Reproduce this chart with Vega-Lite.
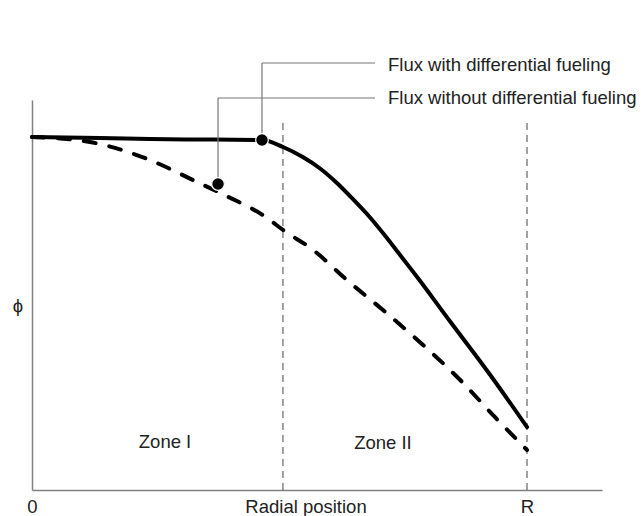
{
  "$schema": "https://vega.github.io/schema/vega-lite/v6.json",
  "width": 570,
  "height": 390,
  "autosize": "none",
  "padding": {"left": 32, "top": 100, "right": 39, "bottom": 26},
  "config": {
    "view": {"stroke": null},
    "font": "Liberation Sans",
    "axis": {"grid": false, "ticks": false, "domainColor": "#808080", "domainWidth": 1.5}
  },
  "datasets": {
    "curves": [
      {"series": "with", "x": 0.0, "y": 0.905},
      {"series": "with", "x": 0.137, "y": 0.9026},
      {"series": "with", "x": 0.238, "y": 0.9},
      {"series": "with", "x": 0.339, "y": 0.8987},
      {"series": "with", "x": 0.465, "y": 0.8974},
      {"series": "with", "x": 0.507, "y": 0.8795},
      {"series": "with", "x": 0.547, "y": 0.8538},
      {"series": "with", "x": 0.582, "y": 0.8244},
      {"series": "with", "x": 0.616, "y": 0.7872},
      {"series": "with", "x": 0.648, "y": 0.7462},
      {"series": "with", "x": 0.683, "y": 0.6987},
      {"series": "with", "x": 0.717, "y": 0.6462},
      {"series": "with", "x": 0.749, "y": 0.5936},
      {"series": "with", "x": 0.778, "y": 0.5462},
      {"series": "with", "x": 0.844, "y": 0.4333},
      {"series": "with", "x": 0.925, "y": 0.2962},
      {"series": "with", "x": 1.0, "y": 0.1615},
      {"series": "without", "x": 0.0, "y": 0.905},
      {"series": "without", "x": 0.0566, "y": 0.9013},
      {"series": "without", "x": 0.117, "y": 0.8923},
      {"series": "without", "x": 0.238, "y": 0.8462},
      {"series": "without", "x": 0.325, "y": 0.7949},
      {"series": "without", "x": 0.38, "y": 0.7615},
      {"series": "without", "x": 0.475, "y": 0.6974},
      {"series": "without", "x": 0.507, "y": 0.6667},
      {"series": "without", "x": 0.568, "y": 0.6154},
      {"series": "without", "x": 0.636, "y": 0.5385},
      {"series": "without", "x": 0.709, "y": 0.4615},
      {"series": "without", "x": 0.79, "y": 0.3718},
      {"series": "without", "x": 0.865, "y": 0.2821},
      {"series": "without", "x": 0.935, "y": 0.1872},
      {"series": "without", "x": 1.0, "y": 0.1026}
    ],
    "zones": [
      {"x": 0.507, "y": 0, "y2": 0.946},
      {"x": 1.0, "y": 0, "y2": 0.946}
    ],
    "leaders": [
      {"x": 0.3758, "x2": 0.3758, "y": 0.7846, "y2": 1.0051},
      {"x": 0.3758, "x2": 0.693, "y": 1.0051, "y2": 1.0051},
      {"x": 0.4646, "x2": 0.4646, "y": 0.8974, "y2": 1.0949},
      {"x": 0.4646, "x2": 0.693, "y": 1.0949, "y2": 1.0949}
    ],
    "dots": [
      {"x": 0.3758, "y": 0.7846},
      {"x": 0.4646, "y": 0.8974}
    ],
    "callouts": [
      {"x": 0.7192, "y": 1.0051, "text": "Flux without differential fueling"},
      {"x": 0.7192, "y": 1.0897, "text": "Flux with differential fueling"}
    ],
    "zonelabels": [
      {"x": 0.2687, "y": 0.123, "text": "Zone I"},
      {"x": 0.709, "y": 0.1205, "text": "Zone II"}
    ]
  },
  "layer": [
    {
      "data": {"name": "zones"},
      "mark": {"type": "rule", "color": "#444444", "strokeWidth": 1, "strokeDash": [7, 5]},
      "encoding": {
        "x": {
          "field": "x", "type": "quantitative",
          "scale": {"domain": [0, 1.1515], "nice": false, "zero": false},
          "axis": {
            "values": [0, 1],
            "labelExpr": "datum.value == 1 ? 'R' : '0'",
            "labelFlush": false,
            "labelFontSize": 18.5,
            "labelColor": "#222222",
            "labelBaseline": "alphabetic",
            "labelPadding": 22,
            "title": "Radial position",
            "titleFontSize": 18.5,
            "titleFontWeight": "normal",
            "titleColor": "#222222",
            "titleBaseline": "alphabetic",
            "titleX": 273.5,
            "titleY": 22
          }
        },
        "y": {
          "field": "y", "type": "quantitative",
          "scale": {"domain": [0, 1], "nice": false, "zero": false},
          "axis": {
            "labels": false,
            "title": "ϕ",
            "titleAngle": 0,
            "titleFontSize": 18.5,
            "titleFontWeight": "normal",
            "titleColor": "#222222",
            "titleAlign": "center",
            "titleBaseline": "middle",
            "titleX": -14.5,
            "titleY": 205
          }
        },
        "y2": {"field": "y2"}
      }
    },
    {
      "data": {"name": "curves"},
      "transform": [{"filter": "datum.series == 'without'"}],
      "mark": {"type": "line", "color": "#000000", "strokeWidth": 4, "strokeDash": [12, 14], "strokeCap": "round", "interpolate": "monotone"},
      "encoding": {
        "x": {"field": "x", "type": "quantitative"},
        "y": {"field": "y", "type": "quantitative"}
      }
    },
    {
      "data": {"name": "curves"},
      "transform": [{"filter": "datum.series == 'with'"}],
      "mark": {"type": "line", "color": "#000000", "strokeWidth": 4, "strokeCap": "round", "interpolate": "monotone"},
      "encoding": {
        "x": {"field": "x", "type": "quantitative"},
        "y": {"field": "y", "type": "quantitative"}
      }
    },
    {
      "data": {"name": "leaders"},
      "mark": {"type": "rule", "color": "#777777", "strokeWidth": 1.2},
      "encoding": {
        "x": {"field": "x", "type": "quantitative"},
        "x2": {"field": "x2"},
        "y": {"field": "y", "type": "quantitative"},
        "y2": {"field": "y2"}
      }
    },
    {
      "data": {"name": "dots"},
      "mark": {"type": "point", "shape": "circle", "filled": true, "color": "#000000", "size": 160, "opacity": 1, "stroke": "#ffffff", "strokeWidth": 1.2},
      "encoding": {
        "x": {"field": "x", "type": "quantitative"},
        "y": {"field": "y", "type": "quantitative"}
      }
    },
    {
      "data": {"name": "callouts"},
      "mark": {"type": "text", "fontSize": 18.5, "color": "#222222", "baseline": "middle", "align": "left"},
      "encoding": {
        "x": {"field": "x", "type": "quantitative"},
        "y": {"field": "y", "type": "quantitative"},
        "text": {"field": "text"}
      }
    },
    {
      "data": {"name": "zonelabels"},
      "mark": {"type": "text", "fontSize": 18.5, "color": "#222222", "baseline": "middle", "align": "center"},
      "encoding": {
        "x": {"field": "x", "type": "quantitative"},
        "y": {"field": "y", "type": "quantitative"},
        "text": {"field": "text"}
      }
    }
  ]
}
